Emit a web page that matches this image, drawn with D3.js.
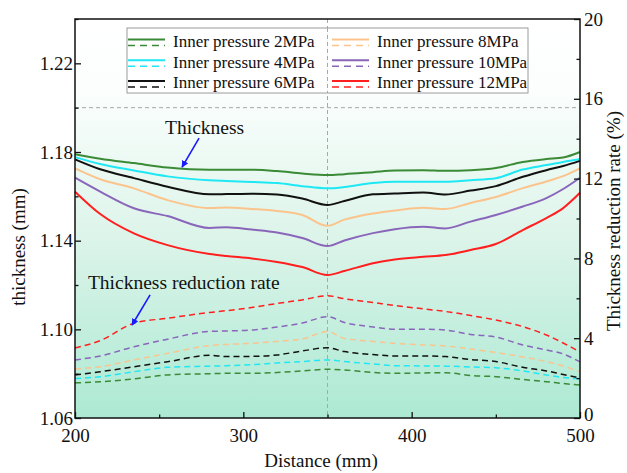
<!DOCTYPE html>
<html>
<head>
<meta charset="utf-8">
<script src="https://cdn.jsdelivr.net/npm/d3@7"></script>
<style>
body { margin: 0; background: #fff; }
text { font-family: "Liberation Serif", "Times New Roman", serif; fill: #111; }
</style>
</head>
<body>
<div id="chart"></div>
<script>
// distance along the part (mm), same x for every curve
const distance = [200, 215, 235, 255, 280, 290, 305, 320, 335, 350, 360, 377, 390, 407, 420, 435, 450, 466, 480, 490, 500];

const pressures = ['2MPa', '4MPa', '6MPa', '8MPa', '10MPa', '12MPa'];

// thickness (mm) - solid lines, left axis
const thick2  = [1.179, 1.177, 1.175, 1.173, 1.172, 1.172, 1.172, 1.1714, 1.1703, 1.1696, 1.170, 1.1709, 1.1716, 1.1718, 1.1715, 1.1718, 1.1728, 1.1755, 1.1768, 1.1775, 1.180];
const thick4  = [1.1777, 1.1746, 1.1717, 1.169, 1.1672, 1.1669, 1.1665, 1.166, 1.1646, 1.1636, 1.1642, 1.166, 1.1666, 1.1666, 1.1666, 1.1673, 1.1682, 1.1721, 1.1741, 1.1755, 1.1767];
const thick6  = [1.1767, 1.1722, 1.1682, 1.1643, 1.1609, 1.161, 1.1612, 1.1608, 1.159, 1.1561, 1.1579, 1.1609, 1.1613, 1.1617, 1.1608, 1.1626, 1.1646, 1.1688, 1.1718, 1.1737, 1.176];
const thick8  = [1.1726, 1.1677, 1.1636, 1.1583, 1.1547, 1.155, 1.1543, 1.1534, 1.1516, 1.1467, 1.1495, 1.1523, 1.1536, 1.1548, 1.1543, 1.157, 1.1597, 1.1637, 1.1667, 1.1691, 1.1726];
const thick10 = [1.1684, 1.1621, 1.1546, 1.1511, 1.1457, 1.1461, 1.145, 1.1437, 1.1412, 1.1376, 1.1401, 1.1434, 1.1452, 1.1463, 1.1455, 1.1486, 1.1516, 1.1554, 1.1592, 1.1633, 1.1684];
const thick12 = [1.1621, 1.152, 1.1433, 1.138, 1.134, 1.1331, 1.132, 1.1304, 1.1281, 1.1245, 1.1263, 1.1298, 1.1315, 1.1327, 1.1335, 1.1358, 1.1385, 1.1448, 1.1502, 1.1547, 1.1616];

// thickness reduction rate (%) - dashed lines, right axis
const rate2  = [1.76, 1.82, 1.96, 2.16, 2.22, 2.24, 2.24, 2.28, 2.36, 2.44, 2.41, 2.28, 2.24, 2.26, 2.27, 2.13, 2.07, 1.93, 1.82, 1.73, 1.65];
const rate4  = [1.98, 2.07, 2.32, 2.54, 2.6, 2.62, 2.67, 2.76, 2.83, 2.91, 2.83, 2.71, 2.62, 2.61, 2.6, 2.56, 2.52, 2.36, 2.16, 2.03, 1.96];
const rate6  = [2.16, 2.32, 2.57, 2.82, 3.14, 3.08, 3.09, 3.16, 3.36, 3.52, 3.33, 3.18, 3.11, 3.11, 3.08, 2.93, 2.83, 2.54, 2.36, 2.18, 2.01];
const rate8  = [2.46, 2.57, 2.91, 3.24, 3.63, 3.69, 3.74, 3.84, 3.96, 4.33, 3.99, 3.84, 3.74, 3.66, 3.61, 3.46, 3.28, 3.06, 2.83, 2.61, 2.31];
const rate10 = [2.91, 3.11, 3.57, 3.95, 4.34, 4.36, 4.41, 4.56, 4.76, 5.08, 4.79, 4.56, 4.45, 4.45, 4.41, 4.19, 4.06, 3.66, 3.41, 3.21, 2.81];
const rate12 = [3.51, 3.88, 4.75, 5.0, 5.29, 5.38, 5.54, 5.74, 5.92, 6.13, 5.98, 5.79, 5.64, 5.47, 5.34, 5.14, 4.91, 4.58, 4.16, 3.76, 3.31];

const thickTicks = [1.06, 1.10, 1.14, 1.18, 1.22];
const thickMinor = [1.08, 1.12, 1.16, 1.20, 1.24];
const rateTicks = [0, 4, 8, 12, 16, 20];
const rateMinor = [2, 6, 10, 14, 18];
const distTicks = [200, 300, 400, 500];
const distMinor = [250, 350, 450];

const colours = ['#3b8a36', '#1ee8f4', '#111111', '#fbc48d', '#8a66bb', '#ff1f1f'];

const thickAll = [thick2, thick4, thick6, thick8, thick10, thick12];
const rateAll = [rate2, rate4, rate6, rate8, rate10, rate12];

const width = 627, height = 473;
const plotLeft = 75, plotRight = 580, plotTop = 19, plotBottom = 418;

const x = d3.scaleLinear().domain([200, 500]).range([plotLeft, plotRight]);
const yT = d3.scaleLinear().domain([1.06, 1.24]).range([plotBottom, plotTop]);
const yR = d3.scaleLinear().domain([0, 20]).range([plotBottom, plotTop]);

const svg = d3.select('#chart').append('svg')
    .attr('width', width)
    .attr('height', height);

const defs = svg.append('defs');
const grad = defs.append('linearGradient')
    .attr('id', 'bg').attr('x1', 0).attr('y1', 0).attr('x2', 0).attr('y2', 1);
grad.append('stop').attr('offset', '0%').attr('stop-color', '#ffffff');
grad.append('stop').attr('offset', '18%').attr('stop-color', '#fbfefd');
grad.append('stop').attr('offset', '55%').attr('stop-color', '#dcf4e9');
grad.append('stop').attr('offset', '100%').attr('stop-color', '#ace9d3');

defs.append('marker')
    .attr('id', 'arrow')
    .attr('viewBox', '0 0 10 10')
    .attr('refX', 9).attr('refY', 5)
    .attr('markerWidth', 7).attr('markerHeight', 7)
    .attr('markerUnits', 'userSpaceOnUse')
    .attr('orient', 'auto')
  .append('path')
    .attr('d', 'M0,0 L10,5 L0,10 Z')
    .attr('fill', '#1a1aff');

svg.append('rect')
    .attr('x', plotLeft).attr('y', plotTop)
    .attr('width', plotRight - plotLeft).attr('height', plotBottom - plotTop)
    .attr('fill', 'url(#bg)');

// grey reference lines: nominal thickness 1.20 and middle section 350
svg.append('line')
    .attr('x1', plotLeft).attr('x2', plotRight)
    .attr('y1', yT(1.20)).attr('y2', yT(1.20))
    .attr('stroke', '#a8a8a8').attr('stroke-width', 1).attr('stroke-dasharray', '4,3');

svg.append('line')
    .attr('x1', x(350)).attr('x2', x(350))
    .attr('y1', plotTop).attr('y2', plotBottom)
    .attr('stroke', '#a8a8a8').attr('stroke-width', 1).attr('stroke-dasharray', '4,3');

const thickLine = d3.line()
    .x((d, i) => x(distance[i]))
    .y(d => yT(d))
    .curve(d3.curveMonotoneX);

const rateLine = d3.line()
    .x((d, i) => x(distance[i]))
    .y(d => yR(d))
    .curve(d3.curveMonotoneX);

svg.append('g').selectAll('path')
    .data(rateAll)
    .enter().append('path')
        .attr('d', rateLine)
        .attr('fill', 'none')
        .attr('stroke', (d, i) => colours[i])
        .attr('stroke-width', 1.5)
        .attr('stroke-dasharray', '6,4');

svg.append('g').selectAll('path')
    .data(thickAll)
    .enter().append('path')
        .attr('d', thickLine)
        .attr('fill', 'none')
        .attr('stroke', (d, i) => colours[i])
        .attr('stroke-width', 2);

// axes, ticks point inward
function styleAxis(g) {
    g.select('.domain').remove();
    g.selectAll('line').attr('stroke', '#111').attr('stroke-width', 1.3);
    g.selectAll('text')
        .attr('font-size', 19)
        .attr('fill', '#111');
}

svg.append('g')
    .attr('transform', `translate(${plotLeft},0)`)
    .call(d3.axisLeft(yT).tickValues(thickTicks).tickSize(-6).tickPadding(2).tickFormat(d3.format('.2f')))
    .call(styleAxis);
svg.append('g')
    .attr('transform', `translate(${plotLeft},0)`)
    .call(d3.axisLeft(yT).tickValues(thickMinor).tickSize(-3.5).tickFormat(''))
    .call(styleAxis);

svg.append('g')
    .attr('transform', `translate(${plotRight},0)`)
    .call(d3.axisRight(yR).tickValues(rateTicks).tickSize(-6).tickPadding(4))
    .call(styleAxis)
    .selectAll('text').filter(d => d === 0).attr('dy', '0.15em'); // keep the 0 off the 500
svg.append('g')
    .attr('transform', `translate(${plotRight},0)`)
    .call(d3.axisRight(yR).tickValues(rateMinor).tickSize(-3.5).tickFormat(''))
    .call(styleAxis);

svg.append('g')
    .attr('transform', `translate(0,${plotBottom})`)
    .call(d3.axisBottom(x).tickValues(distTicks).tickSize(-6).tickPadding(11))
    .call(styleAxis);
svg.append('g')
    .attr('transform', `translate(0,${plotBottom})`)
    .call(d3.axisBottom(x).tickValues(distMinor).tickSize(-3.5).tickFormat(''))
    .call(styleAxis);

svg.append('rect')
    .attr('x', plotLeft).attr('y', plotTop)
    .attr('width', plotRight - plotLeft).attr('height', plotBottom - plotTop)
    .attr('fill', 'none')
    .attr('stroke', '#111').attr('stroke-width', 1.5);

// axis titles
svg.append('text')
    .attr('x', 321).attr('y', 467)
    .attr('text-anchor', 'middle')
    .attr('font-size', 19)
    .text('Distance (mm)');

svg.append('text')
    .attr('transform', 'translate(25,247) rotate(-90)')
    .attr('text-anchor', 'middle')
    .attr('font-size', 19)
    .text('thickness (mm)');

svg.append('text')
    .attr('transform', 'translate(620,221) rotate(-90)')
    .attr('text-anchor', 'middle')
    .attr('font-size', 19)
    .text('Thickness reduction rate (%)');

// annotations
svg.append('text')
    .attr('x', x(253.5)).attr('y', yT(1.188))
    .attr('font-size', 19.5)
    .text('Thickness');
svg.append('line')
    .attr('x1', x(273.7)).attr('y1', yT(1.1863))
    .attr('x2', x(263.6)).attr('y2', yT(1.1732))
    .attr('stroke', '#1a1aff').attr('stroke-width', 1.6)
    .attr('marker-end', 'url(#arrow)');

svg.append('text')
    .attr('x', x(207.7)).attr('y', yR(6.47))
    .attr('font-size', 19.5)
    .text('Thickness reduction rate');
svg.append('line')
    .attr('x1', x(244.6)).attr('y1', yR(6.17))
    .attr('x2', x(233.9)).attr('y2', yR(4.66))
    .attr('stroke', '#1a1aff').attr('stroke-width', 1.6)
    .attr('marker-end', 'url(#arrow)');

// legend, two columns of three
const legend = svg.append('g');
legend.append('rect')
    .attr('x', 127).attr('y', 28)
    .attr('width', 401).attr('height', 65)
    .attr('fill', '#fff').attr('fill-opacity', 0.85)
    .attr('stroke', '#9a9a9a').attr('stroke-width', 1);

legend.append('line')
    .attr('x1', x(350)).attr('x2', x(350))
    .attr('y1', 28).attr('y2', 93)
    .attr('stroke', '#a8a8a8').attr('stroke-width', 1).attr('stroke-dasharray', '4,3');

const items = legend.selectAll('g.item')
    .data(pressures)
    .enter().append('g')
        .attr('class', 'item')
        .attr('transform', (d, i) => `translate(${i < 3 ? 128 : 332},${41 + (i % 3) * 20.7})`);

items.append('line')
    .attr('x1', 0).attr('x2', 37).attr('y1', -1.5).attr('y2', -1.5)
    .attr('stroke', (d, i) => colours[i]).attr('stroke-width', 2);
items.append('line')
    .attr('x1', 0).attr('x2', 37).attr('y1', 4.5).attr('y2', 4.5)
    .attr('stroke', (d, i) => colours[i]).attr('stroke-width', 1.5)
    .attr('stroke-dasharray', '7,5');
items.append('text')
    .attr('x', 45).attr('y', 6)
    .attr('font-size', 17)
    .text(d => 'Inner pressure ' + d);
</script>
</body>
</html>
